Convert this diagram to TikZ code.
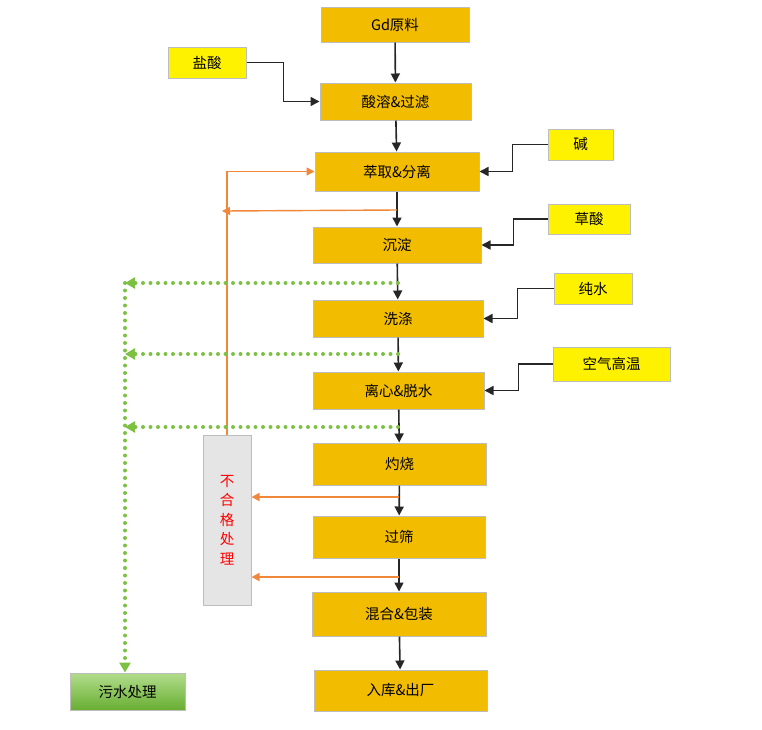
\documentclass[tikz,border=0pt]{standalone}
\usepackage{fontspec}
\setmainfont{Noto Sans CJK SC}
\usetikzlibrary{arrows.meta,positioning,calc}
\definecolor{gongxuse}{HTML}{F2BC00}
\definecolor{biankuang}{HTML}{BDBDBD}
\definecolor{chengse}{HTML}{F0873A}
\definecolor{lvse}{HTML}{7CC142}
\definecolor{lvshang}{HTML}{B2DD8C}
\definecolor{lvxia}{HTML}{68AE32}
\tikzset{
  gongxu/.style={draw=biankuang,line width=1pt,fill=gongxuse,inner sep=0pt,font=\fontsize{14.5}{16}\selectfont},
  yuanliao/.style={draw=biankuang,line width=1pt,fill=yellow,inner sep=0pt,font=\fontsize{14.5}{16}\selectfont},
  hei/.style={-{Triangle[length=9pt,width=9pt]},line width=1.6pt,black!85},
  cheng/.style={-{Triangle[length=8pt,width=8pt]},line width=1.4pt,chengse},
  feishui/.style={-{Triangle[length=10pt,width=11pt]},lvse,line width=4pt,line cap=round,dash pattern=on 0pt off 7.5pt}
}
\begin{document}
\begin{tikzpicture}[x=1pt,y=-1pt]
\useasboundingbox (0,0) rectangle (762,729);
% 主流程
\node[gongxu,minimum width=148pt,minimum height=35pt] (gd) at (395,24.5) {Gd原料};
\node[gongxu,minimum width=151pt,minimum height=37pt] (suanrong) at (395.5,101.5) {酸溶\&过滤};
\node[gongxu,minimum width=164pt,minimum height=39pt] (cuiqu) at (397,171.5) {萃取\&分离};
\node[gongxu,minimum width=168pt,minimum height=36pt] (chendian) at (397,245) {沉淀};
\node[gongxu,minimum width=170pt,minimum height=37pt] (xidi) at (398,318.5) {洗涤};
\node[gongxu,minimum width=171pt,minimum height=37pt] (lixin) at (398.5,390.5) {离心\&脱水};
\node[gongxu,minimum width=173pt,minimum height=42pt] (zhuoshao) at (399.5,464) {灼烧};
\node[gongxu,minimum width=172pt,minimum height=42pt] (guoshai) at (399,537) {过筛};
\node[gongxu,minimum width=174pt,minimum height=44pt] (hunhe) at (399,614) {混合\&包装};
\node[gongxu,minimum width=173pt,minimum height=41pt] (ruku) at (400.5,690.5) {入库\&出厂};
% 原料
\node[yuanliao,minimum width=78pt,minimum height=31pt] (yansuan) at (207,62.5) {盐酸};
\node[yuanliao,minimum width=65pt,minimum height=31pt] (jian) at (580.5,144.5) {碱};
\node[yuanliao,minimum width=82pt,minimum height=30pt] (caosuan) at (589,219) {草酸};
\node[yuanliao,minimum width=78pt,minimum height=31pt] (chunshui) at (593,288.5) {纯水};
\node[yuanliao,minimum width=117pt,minimum height=34pt] (kongqi) at (611.5,364) {空气高温};
% 不合格、污水
\node[draw=biankuang,line width=1pt,fill=black!10,minimum width=48pt,minimum height=170pt,inner sep=0pt,
      text=red,align=center,font=\fontsize{14.5}{19.5}\selectfont] (buhege) at (227,520) {不\\合\\格\\处\\理};
\node[draw=biankuang,line width=1pt,top color=lvshang,bottom color=lvxia,minimum width=115pt,minimum height=37pt,
      inner sep=0pt,font=\fontsize{14.5}{16}\selectfont] (wushui) at (127.5,691.5) {污水处理};

\draw[hei] (gd) -- (suanrong);
\draw[hei] (suanrong) -- (cuiqu);
\draw[hei] (cuiqu) -- (chendian);
\draw[hei] (chendian) -- (xidi);
\draw[hei] (xidi) -- (lixin);
\draw[hei] (lixin) -- (zhuoshao);
\draw[hei] (zhuoshao) -- (guoshai);
\draw[hei] (guoshai) -- (hunhe);
\draw[hei] (hunhe) -- (ruku);

\draw[hei] (yansuan.east) -- ++(37,0) |- (suanrong.west);
\draw[hei] (jian.west) -- ++(-35,0) |- (cuiqu.east);
\draw[hei] (caosuan.west) -- ++(-34,0) |- (chendian.east);
\draw[hei] (chunshui.west) -- ++(-36,0) |- (xidi.east);
\draw[hei] (kongqi.west) -- ++(-34,0) |- (lixin.east);

% 不合格返回
\coordinate (c1) at (397,210);
\coordinate (c1e) at (222,211);
\coordinate (c2) at (399,497);
\coordinate (c3) at (399,577);
\draw[cheng] (buhege.north) |- (cuiqu.west);
\draw[cheng] (c1) -- (c1e);
\draw[cheng] (c2) -- (buhege.east |- c2);
\draw[cheng] (c3) -- (buhege.east |- c3);

% 废水
\coordinate (w1) at (398,283);
\coordinate (w2) at (398,354);
\coordinate (w3) at (398,427);
\coordinate (wl) at (125,283);
\draw[feishui] (w1) -- (wl);
\draw[feishui] (w2) -- (wl |- w2);
\draw[feishui] (w3) -- (wl |- w3);
\draw[feishui] (wl) -- (wl |- wushui.north);
\end{tikzpicture}
\end{document}
